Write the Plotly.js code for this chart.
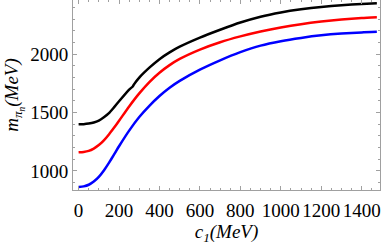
<!DOCTYPE html>
<html>
<head>
<meta charset="utf-8">
<script src="https://cdn.plot.ly/plotly-3.0.1.min.js"></script>
<style>html,body{margin:0;padding:0;background:#fff;}#chart{width:382px;height:245px;}</style>
</head>
<body>
<div id="chart"></div>
<script>
const c1 = [0, 25, 50, 75, 100, 125, 150, 175, 200, 250, 300, 350, 400, 450, 500, 600, 700, 800, 900, 1000, 1100, 1200, 1300, 1400, 1475];
const cBlack = [0, 25, 50, 75, 100, 125, 150, 175, 200, 250, 268, 274, 300, 350, 400, 450, 500, 600, 700, 800, 900, 1000, 1100, 1200, 1300, 1400, 1475];
const mBlack = [1400, 1401, 1406, 1415, 1432, 1460, 1495, 1545, 1597, 1697, 1724, 1742, 1800, 1885, 1958, 2016, 2065, 2143, 2210, 2272, 2322, 2358, 2385, 2406, 2420, 2431, 2437];
const mRed = [1160, 1163, 1172, 1192, 1222, 1263, 1313, 1370, 1430, 1553, 1665, 1762, 1842, 1907, 1960, 2040, 2103, 2153, 2195, 2230, 2258, 2280, 2297, 2310, 2317];
const mBlue = [862, 868, 882, 910, 950, 1005, 1070, 1140, 1212, 1346, 1462, 1558, 1642, 1713, 1772, 1868, 1948, 2018, 2074, 2112, 2140, 2162, 2177, 2187, 2192];
const xTicks = [0, 200, 400, 600, 800, 1000, 1200, 1400];
const yTicks = [1000, 1500, 2000];

const traces = [
  {x: c1, y: mBlue, mode: 'lines', line: {color: '#0000ff', width: 2.5, shape: 'spline', smoothing: 0.6}},
  {x: c1, y: mRed, mode: 'lines', line: {color: '#ff0000', width: 2.5, shape: 'spline', smoothing: 0.6}},
  {x: cBlack, y: mBlack, mode: 'lines', line: {color: '#000000', width: 2.5, shape: 'spline', smoothing: 0.4}}
];
const serif = 'Liberation Serif';
const tickFont = {family: serif, size: 19, color: '#000'};
const layout = {
  width: 382, height: 245,
  margin: {l: 73, r: 2, t: 0, b: 55},
  showlegend: false,
  font: {family: serif, size: 19, color: '#000'},
  paper_bgcolor: '#fff', plot_bgcolor: '#fff',
  xaxis: {
    range: [-27.7, 1490.6], tickvals: xTicks, ticktext: xTicks.map(String),
    showgrid: false, zeroline: false, showline: true, linecolor: '#a0a0a0', linewidth: 1,
    mirror: 'ticks', ticks: 'inside', ticklen: 4, tickcolor: '#a0a0a0',
    minor: {dtick: 50, tick0: 0, ticks: 'inside', ticklen: 2, tickcolor: '#a0a0a0'},
    tickfont: tickFont, ticklabelstandoff: 3,
    title: {text: '<i>c</i><sub><i>1</i></sub><i>(MeV)</i>', font: {family: serif, size: 19, color: '#000'}, standoff: 9}
  },
  yaxis: {
    range: [837, 2465], tickvals: yTicks, ticktext: yTicks.map(String),
    showgrid: false, zeroline: false, showline: true, linecolor: '#a0a0a0', linewidth: 1,
    mirror: 'ticks', ticks: 'inside', ticklen: 4, tickcolor: '#a0a0a0',
    minor: {dtick: 100, tick0: 0, ticks: 'inside', ticklen: 2, tickcolor: '#a0a0a0'},
    tickfont: tickFont,
    title: {text: '<i>m</i><sub><i>π</i><sub><i>n</i></sub></sub><i>(MeV)</i>', font: {family: serif, size: 19, color: '#000'}, standoff: 6}
  }
};
Plotly.newPlot('chart', traces, layout, {staticPlot: true, displayModeBar: false});
</script>
</body>
</html>
